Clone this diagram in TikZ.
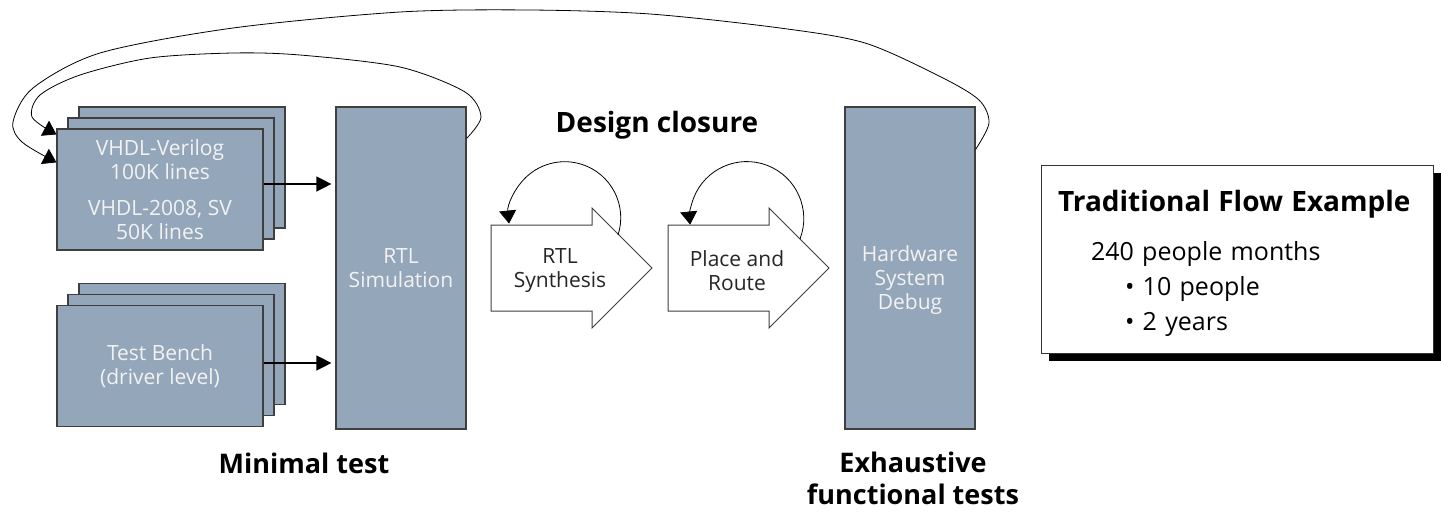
\documentclass[tikz,border=0pt]{standalone}
\usepackage{fontspec}
\setmainfont{Open Sans}
\usetikzlibrary{positioning, arrows.meta, shadows}

\definecolor{blkgray}{HTML}{94A7BA}
\definecolor{blkline}{HTML}{3F3F3F}
\definecolor{blktext}{HTML}{F2F2F2}

\tikzset{
  blk/.style={draw=blkline, line width=1.2pt, fill=blkgray, text=blktext, align=center,
    font=\fontsize{21}{24}\selectfont},
  stackblk/.style={blk, minimum width=206pt, minimum height=121pt,
    double copy shadow={shadow xshift=11pt, shadow yshift=11pt}},
  bigarrow/.style={draw=blkline, line width=1pt, fill=white, line join=miter},
  arrowtxt/.style={text=black!85, align=center, font=\fontsize{21}{24}\selectfont},
  flow/.style={-{Triangle[length=15pt,width=15pt]}, line width=1.4pt, shorten >=4pt},
  loopar/.style={-{Triangle[length=13pt,width=17pt]}, line width=0.8pt},
  lbl/.style={font=\bfseries\fontsize{27}{32}\selectfont, align=center},
}

\begin{document}
\begin{tikzpicture}[x=1pt, y=-1pt]
  \useasboundingbox (0,0) rectangle (1441,512);

  % Input blocks
  \node[stackblk] (vhdl) at (160,189.5) {VHDL-Verilog\\100K lines\\[12pt]VHDL-2008, SV\\50K lines};
  \node[stackblk] (tb) at (160,366) {Test Bench\\(driver level)};

  % Simulation and debug
  \node[blk, minimum width=130pt, minimum height=322pt] (rtlsim) at (401,268) {RTL\\Simulation};
  \node[blk, minimum width=130pt, minimum height=322pt,
    label={[blk, draw=none, fill=none, yshift=-12pt]center:Hardware\\System\\Debug}] (hw) at (910,268) {};

  \draw[flow] ([yshift=5.5pt]vhdl.east) -- ([yshift=5.5pt]vhdl.east -| rtlsim.west);
  \draw[flow] ([yshift=3pt]tb.east) -- ([yshift=3pt]tb.east -| rtlsim.west);

  % Design closure steps
  \draw[bigarrow] (491,225) -- ++(101,0) -- ++(0,-17) -- ++(60,60) -- ++(-60,60) -- ++(0,-17) -- ++(-101,0) -- cycle;
  \draw[bigarrow] (668,225) -- ++(101,0) -- ++(0,-17) -- ++(60,60) -- ++(-60,60) -- ++(0,-17) -- ++(-101,0) -- cycle;
  \node[arrowtxt] (syn) at (560,271) {RTL\\Synthesis};
  \node[arrowtxt] (pnr) at (737,271) {Place and\\Route};

  \coordinate (synout) at (618,235);
  \coordinate (pnrout) at (800,239);
  \draw[loopar] (synout) arc[start angle=18, end angle=-186, radius=56];
  \draw[loopar] (pnrout) arc[start angle=21, end angle=-186, radius=57];

  % Iteration loops back to the sources
  \coordinate (hwloop) at ([yshift=-43pt]hw.north east);
  \coordinate (simloop) at ([yshift=-32pt]rtlsim.north east);
  \coordinate (vhdlin) at ([yshift=-34pt]vhdl.north west);
  \coordinate (vhdlin2) at ([yshift=-6pt]vhdl.north west);
  \draw[loopar] plot[smooth] coordinates {(hwloop) (989,123) (979,100) (941,77) (865,43) (780,28)
    (650,14) (530,10) (400,12) (233,28) (100,53) (33,88) (13,122) (22,142) (vhdlin)};
  \draw[loopar] plot[smooth] coordinates {(simloop) (481,117) (465,92) (400,67) (300,55) (233,53)
    (150,58) (80,75) (40,95) (32,117) (vhdlin2)};

  % Labels
  \node[lbl, font=\bfseries\fontsize{28}{32}\selectfont, anchor=base] (closure) at (657,132) {Design closure};
  \node[lbl, anchor=base] (mintest) at (304,473) {Minimal test};
  \node[lbl, anchor=north] (exhaust) at (913,448) {Exhaustive\\functional tests};

  % Summary box
  \node[draw=black!80, line width=1pt, fill=white, minimum width=392pt, minimum height=188pt,
    text width=358pt, inner xsep=17pt, align=left,
    drop shadow={shadow xshift=8pt, shadow yshift=-8pt, opacity=1, fill=black},
    font=\fontsize{25}{35}\selectfont] (trad) at (1237,259)
    {\rule{0pt}{30pt}{\bfseries\fontsize{28}{34}\selectfont Traditional Flow Example}\\[14pt]
     \hspace*{33pt}240 people months\\
     \hspace*{67pt}• 10 people\\
     \hspace*{67pt}• 2 years};

\end{tikzpicture}
\end{document}
